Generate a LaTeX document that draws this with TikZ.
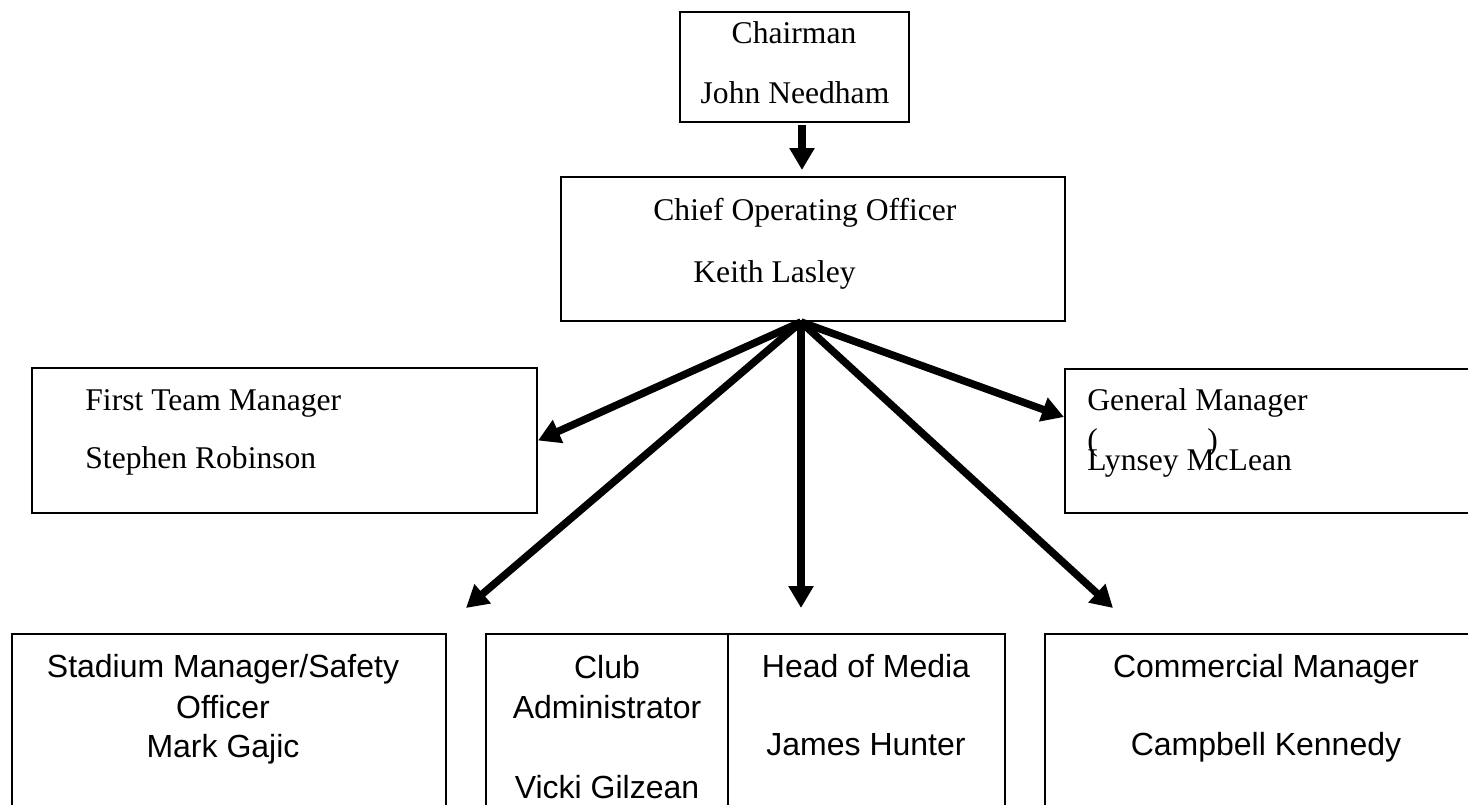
\documentclass[tikz,border=0pt]{standalone}
\usepackage{fontspec}
\setmainfont{Liberation Serif}
\setsansfont{Liberation Sans}
\usetikzlibrary{arrows.meta}

\tikzset{
  box/.style={draw, line width=1pt, rectangle, inner sep=0pt},
  serif/.style={inner sep=0pt, font=\fontsize{15.8}{19}\selectfont},
  sans/.style={inner sep=0pt, font=\sffamily\fontsize{16}{19}\selectfont},
  reports/.style={line width=3.75pt, -{Triangle[length=11pt,width=12pt]}}
}

\begin{document}
\begin{tikzpicture}[x=0.5pt,y=-0.5pt]
\useasboundingbox (0,0) rectangle (1468,804);
\clip (0,0) rectangle (1468,804);

%Shape: Rectangle
\node (chair) [box, minimum width=114.5pt, minimum height=55pt] at (794.5,67) {};
%Shape: Rectangle
\node (coo) [box, minimum width=252pt, minimum height=72pt] at (813,249) {};
%Shape: Rectangle
\node (ftm) [box, minimum width=252.5pt, minimum height=72.5pt] at (284.5,440.5) {};
%Shape: Rectangle
\node (gm) [box, minimum width=252pt, minimum height=72pt] at (1317,441) {};
%Shape: Rectangle
\node (stadium) [box, minimum width=217pt, minimum height=98pt] at (229,732) {};
%Shape: Rectangle
\node (office) [box, minimum width=259.5pt, minimum height=98pt] at (745.5,732) {};
%Shape: Rectangle
\node (comm) [box, minimum width=221pt, minimum height=98pt] at (1266,732) {};
%Straight Lines
\draw [line width=1pt] ([xshift=-8.75pt]office.north) -- ([xshift=-8.75pt]office.south);

%free ends of the lower arrows
\coordinate (stadtip) at (466,608);
\coordinate (officetip) at (801,608);
\coordinate (commtip) at (1113,608);

%Straight Lines
\draw [reports, shorten <=1pt, shorten >=3pt] ([xshift=3.75pt]chair.south) -- ([xshift=-5.5pt]coo.north);
%Straight Lines
\draw [reports] ([xshift=-6pt]coo.south) -- (ftm.east);
\draw [reports] ([xshift=-6pt]coo.south) -- (stadtip);
\draw [reports] ([xshift=-6pt]coo.south) -- (officetip);
\draw [reports] ([xshift=-6pt]coo.south) -- (commtip);
\draw [reports] ([xshift=-6pt]coo.south) -- ([yshift=12pt]gm.west);

% Text Node
\node (chairtitle) [serif, anchor=base] at (794,43) {Chairman};
\node (chairname) [serif, anchor=base] at (795,103) {John Needham};
% Text Node
\node (cootitle) [serif, anchor=base west] at (653,220) {Chief Operating Officer};
\node (cooname) [serif, anchor=base west] at (693,282) {Keith Lasley};
% Text Node
\node (ftmtitle) [serif, anchor=base west] at (85,410) {First Team Manager};
\node (ftmname) [serif, anchor=base west] at (85,468) {Stephen Robinson};
% Text Node
\node (gmtitle) [serif, anchor=base west] at (1087,410) {General Manager};
\node (gmopen) [serif, anchor=base west] at (1087,450) {(};
\node (gmclose) [serif, anchor=base west] at (1207,450) {)};
\node (gmname) [serif, anchor=base west] at (1087,470) {Lynsey McLean};
% Text Node
\node (stadtitle) [sans, anchor=base] at (223,677) {Stadium Manager/Safety};
\node (stadtitleb) [sans, anchor=base] at (223,718) {Officer};
\node (stadname) [sans, anchor=base] at (223,757) {Mark Gajic};
% Text Node
\node (admintitle) [sans, anchor=base] at (607,678) {Club};
\node (admintitleb) [sans, anchor=base] at (607,718) {Administrator};
\node (adminname) [sans, anchor=base] at (607,798) {Vicki Gilzean};
% Text Node
\node (mediatitle) [sans, anchor=base] at (866,677) {Head of Media};
\node (medianame) [sans, anchor=base] at (866,755) {James Hunter};
% Text Node
\node (commtitle) [sans, anchor=base] at (1266,677) {Commercial Manager};
\node (commname) [sans, anchor=base] at (1266,755) {Campbell Kennedy};
\end{tikzpicture}
\end{document}
